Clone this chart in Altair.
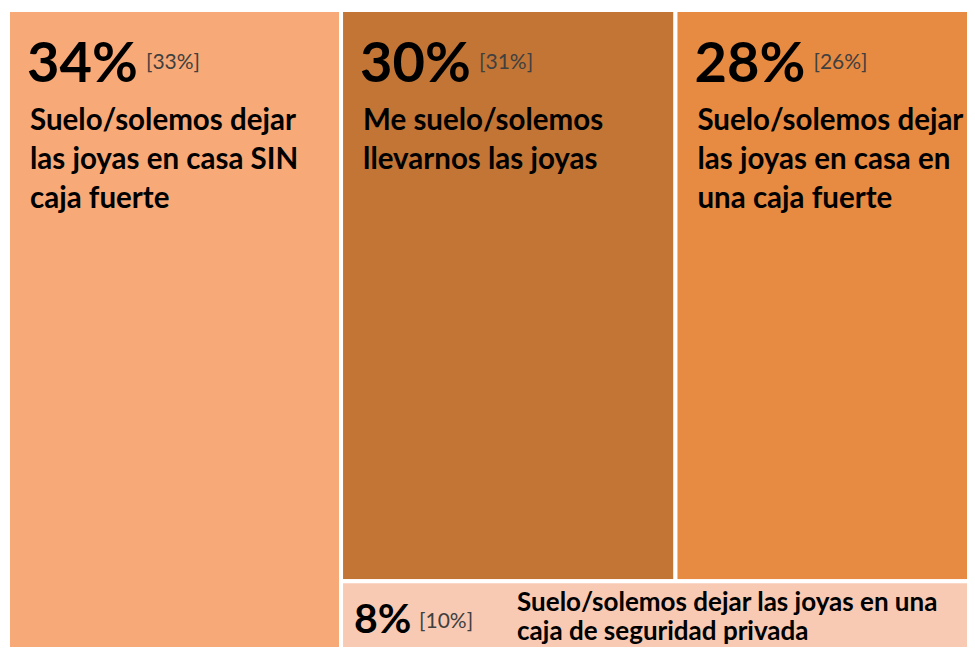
import altair as alt
import pandas as pd

# Data
labels = [
    "Suelo/solemos dejar\nlas joyas en casa SIN\ncaja fuerte",
    "Me suelo/solemos\nllevarnos las joyas",
    "Suelo/solemos dejar\nlas joyas en casa en\nuna caja fuerte",
    "Suelo/solemos dejar las joyas en una\ncaja de seguridad privada",
]
values = [34, 30, 28, 8]
previous = [33, 31, 26, 10]
colors = ["#F7A977", "#C27535", "#E88B42", "#F8CAB3"]

# slice-and-dice treemap layout on a 0..100 x 0..100 square
total = sum(values)
x0 = [0.0] * 4; x1 = [0.0] * 4; y0 = [0.0] * 4; y1 = [0.0] * 4
w0 = values[0] / total * 100
x0[0], x1[0], y0[0], y1[0] = 0, w0, 0, 100
rest = sum(values[1:])
h4 = values[3] / rest * 100
x0[3], x1[3], y0[3], y1[3] = w0, 100, 0, h4
w2 = values[1] / (values[1] + values[2]) * (100 - w0)
x0[1], x1[1], y0[1], y1[1] = w0, w0 + w2, h4, 100
x0[2], x1[2], y0[2], y1[2] = w0 + w2, 100, h4, 100

df = pd.DataFrame({
    "label": labels,
    "pct": [f"{v}%" for v in values],
    "prev": [f"[{p}%]" for p in previous],
    "x0": x0, "x1": x1, "y0": y0, "y1": y1,
    "color": colors,
})

W, H = 959, 639
# the original picture is cropped at its right and bottom edges
xs = alt.Scale(domain=[0, 97.9], nice=False, zero=False)
ys = alt.Scale(domain=[2.0, 100.3], nice=False, zero=False)
X = alt.X("x0:Q", scale=xs, axis=None)
Y = alt.Y("y1:Q", scale=ys, axis=None)

rects = alt.Chart(df).mark_rect(stroke="white", strokeWidth=4, clip=True).encode(
    x=X, x2="x1:Q", y=alt.Y("y0:Q", scale=ys, axis=None), y2="y1:Q",
    color=alt.Color("color:N", scale=None),
)

top = df.iloc[:3]
bot = df.iloc[3:]
FONT = "Lato"

big_top = alt.Chart(top).mark_text(
    font=FONT, fontWeight="bold", fontSize=56, align="left", baseline="alphabetic",
    dx=19, dy=72, color="black", clip=True
).encode(x=X, y=Y, text="pct:N")

prev_top = alt.Chart(top).mark_text(
    font=FONT, fontSize=21, align="left", baseline="alphabetic",
    dx=138, dy=59, color="#404040", clip=True
).encode(x=X, y=Y, text="prev:N")

lab_top = alt.Chart(top).mark_text(
    font=FONT, fontWeight="bold", fontSize=29.5, align="left", baseline="alphabetic",
    dx=22, dy=120, lineHeight=39, lineBreak="\n", color="black", clip=True
).encode(x=X, y=Y, text="label:N")

big_bot = alt.Chart(bot).mark_text(
    font=FONT, fontWeight="bold", fontSize=41, align="left", baseline="alphabetic",
    dx=13, dy=52, color="black", clip=True
).encode(x=X, y=Y, text="pct:N")

prev_bot = alt.Chart(bot).mark_text(
    font=FONT, fontSize=21, align="left", baseline="alphabetic",
    dx=78, dy=47, color="#404040", clip=True
).encode(x=X, y=Y, text="prev:N")

lab_bot = alt.Chart(bot).mark_text(
    font=FONT, fontWeight="bold", fontSize=26, align="left", baseline="alphabetic",
    dx=176, dy=30, lineHeight=29, lineBreak="\n", color="black", clip=True
).encode(x=X, y=Y, text="label:N")

chart = alt.layer(rects, big_top, prev_top, lab_top, big_bot, prev_bot, lab_bot).properties(
    width=W, height=H, padding=0, background="white",
    autosize=alt.AutoSizeParams(type="none"),
).configure_view(stroke=None)

chart.save("out.html", embed_options={"renderer": "svg", "actions": False})
